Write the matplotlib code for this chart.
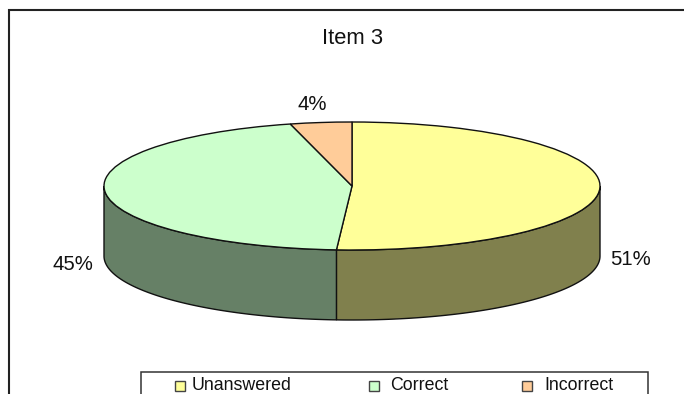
import numpy as np
import matplotlib
matplotlib.use("Agg")
import matplotlib.pyplot as plt
from matplotlib.patches import Rectangle, Polygon

plt.rcParams['font.family'] = ['Liberation Sans', 'DejaVu Sans']

title = "Item 3"
categories = ["Unanswered", "Correct", "Incorrect"]
values = [51, 45, 4]
value_labels = ["51%", "45%", "4%"]
top_colors = ["#FFFF99", "#CCFFCC", "#FFCC99"]
side_colors = ["#80804D", "#668066", "#806650"]

W, H = 684, 394
fig = plt.figure(figsize=(W / 100, H / 100), dpi=100, facecolor="white")

# Page-level axes measured in pixels, y pointing down
page = fig.add_axes([0, 0, 1, 1])
page.set_xlim(0, W)
page.set_ylim(H, 0)
page.axis("off")

# Chart frame: open to the right and bottom edges of the image
page.plot([8.5, 8.5, W], [H, 10, 10], color="#222222", lw=1.5, solid_joinstyle="miter")
page.text(352.5, 38.5, title, ha="center", va="center", fontsize=15.8, color="#111111")

# Pie axes: x spans the ellipse, y spans the ellipse plus the wall depth
left, right, top, bottom = 104, 600, 122, 320
ry_px = 64.0
ax = fig.add_axes([left / W, 1 - bottom / H, (right - left) / W, (bottom - top) / H])
depth = 70.0 / ry_px
ax.patch.set_alpha(0)

fractions = np.array(values, dtype=float) / sum(values)
edges = np.concatenate([[0], np.cumsum(fractions)]) * 2 * np.pi

# Outer wall: the visible part is the lower half of the ellipse
for i, colour in enumerate(side_colors):
    a0, a1 = edges[i], edges[i + 1]
    lo, hi = max(a0, np.pi / 2), min(a1, 3 * np.pi / 2)
    if hi <= lo:
        continue
    t = np.linspace(lo, hi, 120)
    xs, ys = np.sin(t), np.cos(t)
    outline = np.vstack([np.column_stack([xs, ys]),
                         np.column_stack([xs[::-1], ys[::-1] - depth])])
    ax.add_patch(Polygon(outline, closed=True, facecolor=colour, edgecolor="#111111", lw=1.0,
                         zorder=1, clip_on=False))

# Top face
wedges, _ = ax.pie(values, colors=top_colors, startangle=90, counterclock=False, radius=1,
                   wedgeprops=dict(edgecolor="#111111", linewidth=1.0, zorder=2))
ax.set_aspect("auto")
ax.set_xlim(-1, 1)
ax.set_ylim(-1 - depth, 1)
ax.axis("off")
for w in wedges:
    w.set_clip_on(False)

# Percentage labels placed in pixel space around the pie
label_pos = [(630.5, 259.5), (72.5, 264.5), (312.5, 104)]
for text, (x, y) in zip(value_labels, label_pos):
    page.text(x, y, text, ha="center", va="center", fontsize=14.7, color="#111111")

# Legend box, cut off by the bottom edge of the image
page.add_patch(Rectangle((140.5, 372), 507.5, 40, facecolor="white", edgecolor="#333333", lw=1.1))
swatch_x = [175, 369, 522]
text_x = [191.5, 390, 544]
for name, colour, sx, tx in zip(categories, top_colors, swatch_x, text_x):
    page.add_patch(Rectangle((sx, 380.5), 10, 10.5, facecolor=colour, edgecolor="#444444", lw=1.0, zorder=3))
    page.text(tx, 385.5, name, ha="left", va="center", fontsize=12.8, color="#111111")

fig.savefig("out.png", dpi=100)
